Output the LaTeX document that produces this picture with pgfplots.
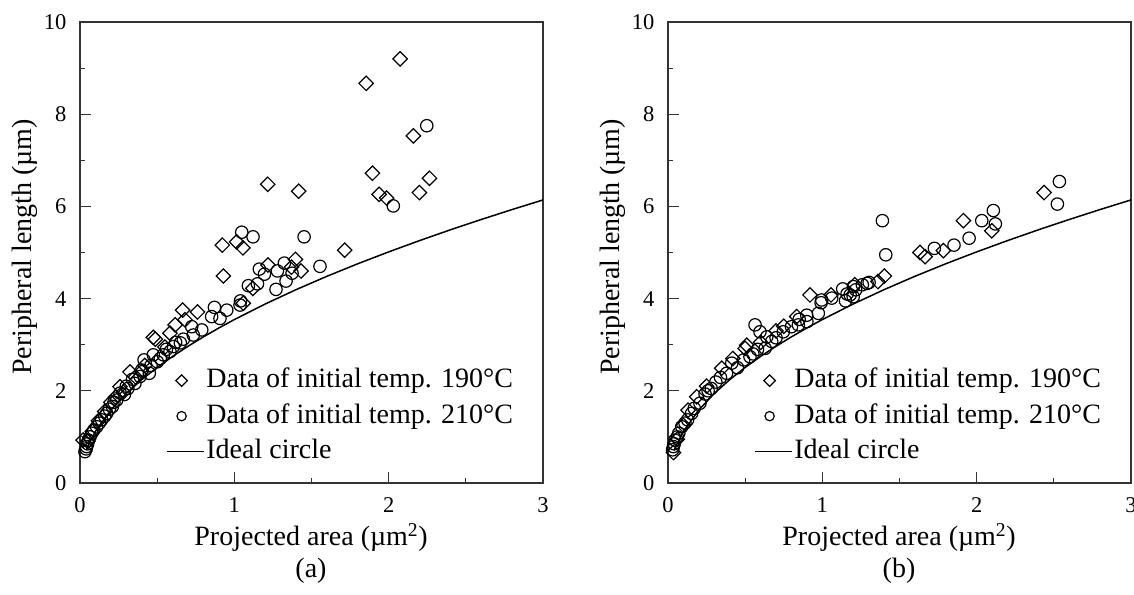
\documentclass[border=0pt]{standalone}
\usepackage{fontspec}
\setmainfont{Liberation Serif}
\usepackage{pgfplots}
\pgfplotsset{compat=1.18}

% ideal circle: P = 2 sqrt(pi A), values typed out
\pgfplotsset{
  panel/.style={
    width=463bp, height=461bp, scale only axis,
    xmin=0, xmax=3, ymin=0, ymax=10,
    xtick={0,1,2,3}, minor xtick={0.5,1.5,2.5},
    ytick={0,2,4,6,8,10}, minor ytick={1,3,5,7,9},
    tick pos=left, tick align=inside,
    major tick length=11bp, minor tick length=4.5bp,
    axis line style={line width=1.2bp, black!80},
    every tick/.style={line width=1.1bp, black!80},
    tick label style={font=\fontsize{22.5bp}{25bp}\selectfont},
    /pgf/number format/assume math mode=true,
    xticklabel style={yshift=-11bp},
    yticklabel style={xshift=-10bp},
    legend cell align=left,
    legend style={draw=none, fill=none, inner sep=0pt,
      font=\fontsize{28bp}{32bp}\selectfont, row sep=5.5bp,
      nodes={text height=20bp, text depth=6bp, inner sep=2bp},
      at={(rel axis cs:0.185,0.255)}, anchor=north west},
    clip=false,
  },
  dia/.style={only marks, mark=square, mark size=5.1bp,
    mark options={rotate=45, line width=1.2bp, black},
    legend image code/.code={\draw[##1, every mark/.append style={scale=0.8}] plot coordinates {(15bp,0bp)};}},
  cir/.style={only marks, mark=o, mark size=6.2bp,
    mark options={line width=1.2bp, black},
    legend image code/.code={\draw[##1, every mark/.append style={scale=0.75}] plot coordinates {(15bp,0bp)};}},
  ideal/.style={no marks, black, line width=1.5bp,
    legend image code/.code={\draw[##1] (0bp,0bp) -- (37bp,0bp);}},
}

\begin{document}
\begin{tikzpicture}
\useasboundingbox (0,0) rectangle (1134bp,595bp);

% ---------- (a) ----------
\begin{axis}[panel, at={(80bp,112bp)}, anchor=south west]
\addplot[dia] coordinates {
(2.074,9.20) (1.854,8.67) (2.16,7.53) (1.895,6.72) (2.264,6.61) (1.938,6.26)
(2.199,6.30) (1.987,6.18) (1.216,6.48) (1.417,6.33) (0.922,5.16) (1.015,5.23)
(1.056,5.10) (1.715,5.05) (1.396,4.85) (1.218,4.73) (1.432,4.60) (1.37,4.68)
(0.929,4.49) (1.12,4.22) (1.058,3.90) (0.761,3.71) (0.665,3.75) (0.68,3.54)
(0.616,3.43) (0.583,3.25) (0.488,3.12) (0.475,3.16) (0.324,2.41) (0.259,2.09)
(0.02,0.93) (0.05,0.90) (0.08,1.12) (0.12,1.35) (0.16,1.55) (0.20,1.75)
(0.28,1.97) (0.36,2.30) (0.42,2.55) (0.55,2.95) (0.40,2.42) (0.23,1.86)
};
\addlegendentry{Data of initial temp. 190°C}
\addplot[cir] coordinates {
(2.03,6.01) (2.247,7.75) (1.048,5.44) (1.121,5.34) (1.452,5.34) (1.555,4.70)
(1.162,4.64) (1.195,4.53) (1.324,4.77) (1.279,4.60) (1.374,4.55) (1.335,4.38)
(1.091,4.28) (1.15,4.32) (1.27,4.20) (1.04,3.95) (1.037,3.86) (0.951,3.75)
(0.871,3.81) (0.853,3.61) (0.907,3.57) (0.789,3.32) (0.724,3.39) (0.734,3.21)
(0.67,3.12) (0.65,3.04) (0.605,2.96) (0.583,2.85) (0.54,2.78) (0.475,2.78)
(0.415,2.67) (0.501,2.63) (0.449,2.38) (0.389,2.31) (0.356,2.16) (0.31,2.05)
(0.288,1.92) (0.238,1.80) (0.21,1.66) (0.173,1.51) (0.14,1.37) (0.108,1.22)
(0.076,1.08) (0.054,0.93) (0.043,0.79) (0.032,0.68)
(0.62,3.05) (0.56,2.90) (0.52,2.70) (0.46,2.55) (0.40,2.45) (0.34,2.25)
(0.30,2.10) (0.26,1.95) (0.22,1.75) (0.19,1.60) (0.16,1.45) (0.125,1.30)
(0.09,1.15) (0.065,1.00) (0.05,0.85) (0.04,0.74)
};
\addlegendentry{Data of initial temp. 210°C}
\addplot[ideal] coordinates {
(0.04,0.709) (0.05,0.793) (0.1,1.121) (0.2,1.585) (0.3,1.942) (0.4,2.242)
(0.5,2.507) (0.6,2.746) (0.7,2.966) (0.8,3.171) (0.9,3.363) (1.0,3.545)
(1.2,3.883) (1.4,4.194) (1.6,4.484) (1.8,4.756) (2.0,5.013) (2.2,5.258)
(2.4,5.492) (2.6,5.716) (2.8,5.932) (3.0,6.140)
};
\addlegendentry{Ideal circle}
\end{axis}

% ---------- (b) ----------
\begin{axis}[panel, at={(668bp,112bp)}, anchor=south west]
\addplot[dia] coordinates {
(2.437,6.30) (2.098,5.47) (1.914,5.69) (1.784,5.04) (1.633,5.00) (1.666,4.91)
(1.402,4.49) (1.36,4.37) (1.21,4.30) (1.056,4.08) (0.92,4.08) (0.834,3.61)
(0.51,2.99) (0.50,2.92) (0.348,2.49) (0.186,1.87) (0.13,1.58) (0.035,0.66)
(0.06,0.95) (0.10,1.25) (0.25,2.10) (0.42,2.70) (0.60,3.05) (0.70,3.30)
(0.75,3.40)
};
\addlegendentry{Data of initial temp. 190°C}
\addplot[cir] coordinates {
(2.536,6.54) (2.523,6.05) (2.108,5.91) (2.121,5.62) (2.033,5.69) (1.951,5.31)
(1.853,5.16) (1.726,5.09) (1.389,5.69) (1.411,4.95) (1.303,4.35) (1.259,4.30)
(1.216,4.19) (1.132,4.21) (1.18,4.08) (0.996,3.97) (0.992,3.91) (1.061,4.01)
(0.974,3.68) (0.899,3.64) (1.16,4.10) (1.20,4.04) (1.15,3.95) (1.201,4.26)
(1.29,4.33) (0.845,3.43) (0.80,3.39) (0.747,3.28) (0.564,3.43) (0.596,3.28)
(0.64,3.17) (0.672,3.07) (0.629,2.92) (0.58,2.90) (0.531,2.74) (0.49,2.67)
(0.413,2.60) (0.38,2.38) (0.34,2.29) (0.31,2.19) (0.24,1.93) (0.207,1.73)
(0.153,1.51) (0.127,1.37) (0.089,1.22) (0.07,1.08) (0.045,0.93) (0.035,0.79)
(0.28,2.05) (0.26,2.00) (0.45,2.50) (0.55,2.80) (0.70,3.15) (0.90,3.50)
(0.85,3.55) (0.17,1.62) (0.11,1.30) (0.06,1.00) (0.04,0.85) (0.03,0.72)
};
\addlegendentry{Data of initial temp. 210°C}
\addplot[ideal] coordinates {
(0.04,0.709) (0.05,0.793) (0.1,1.121) (0.2,1.585) (0.3,1.942) (0.4,2.242)
(0.5,2.507) (0.6,2.746) (0.7,2.966) (0.8,3.171) (0.9,3.363) (1.0,3.545)
(1.2,3.883) (1.4,4.194) (1.6,4.484) (1.8,4.756) (2.0,5.013) (2.2,5.258)
(2.4,5.492) (2.6,5.716) (2.8,5.932) (3.0,6.140)
};
\addlegendentry{Ideal circle}
\end{axis}

% axis titles and panel letters
\begin{scope}[every node/.style={font=\fontsize{28bp}{31bp}\selectfont, inner sep=0pt}]
\node[rotate=90] at (25bp,348bp) {Peripheral length (µm)};
\node[rotate=90] at (613bp,348bp) {Peripheral length (µm)};
\node at (311bp,58bp) {Projected area (µm\textsuperscript{2})};
\node at (899bp,58bp) {Projected area (µm\textsuperscript{2})};
\node at (311bp,24bp) {(a)};
\node at (899bp,24bp) {(b)};
\end{scope}
\end{tikzpicture}
\end{document}
